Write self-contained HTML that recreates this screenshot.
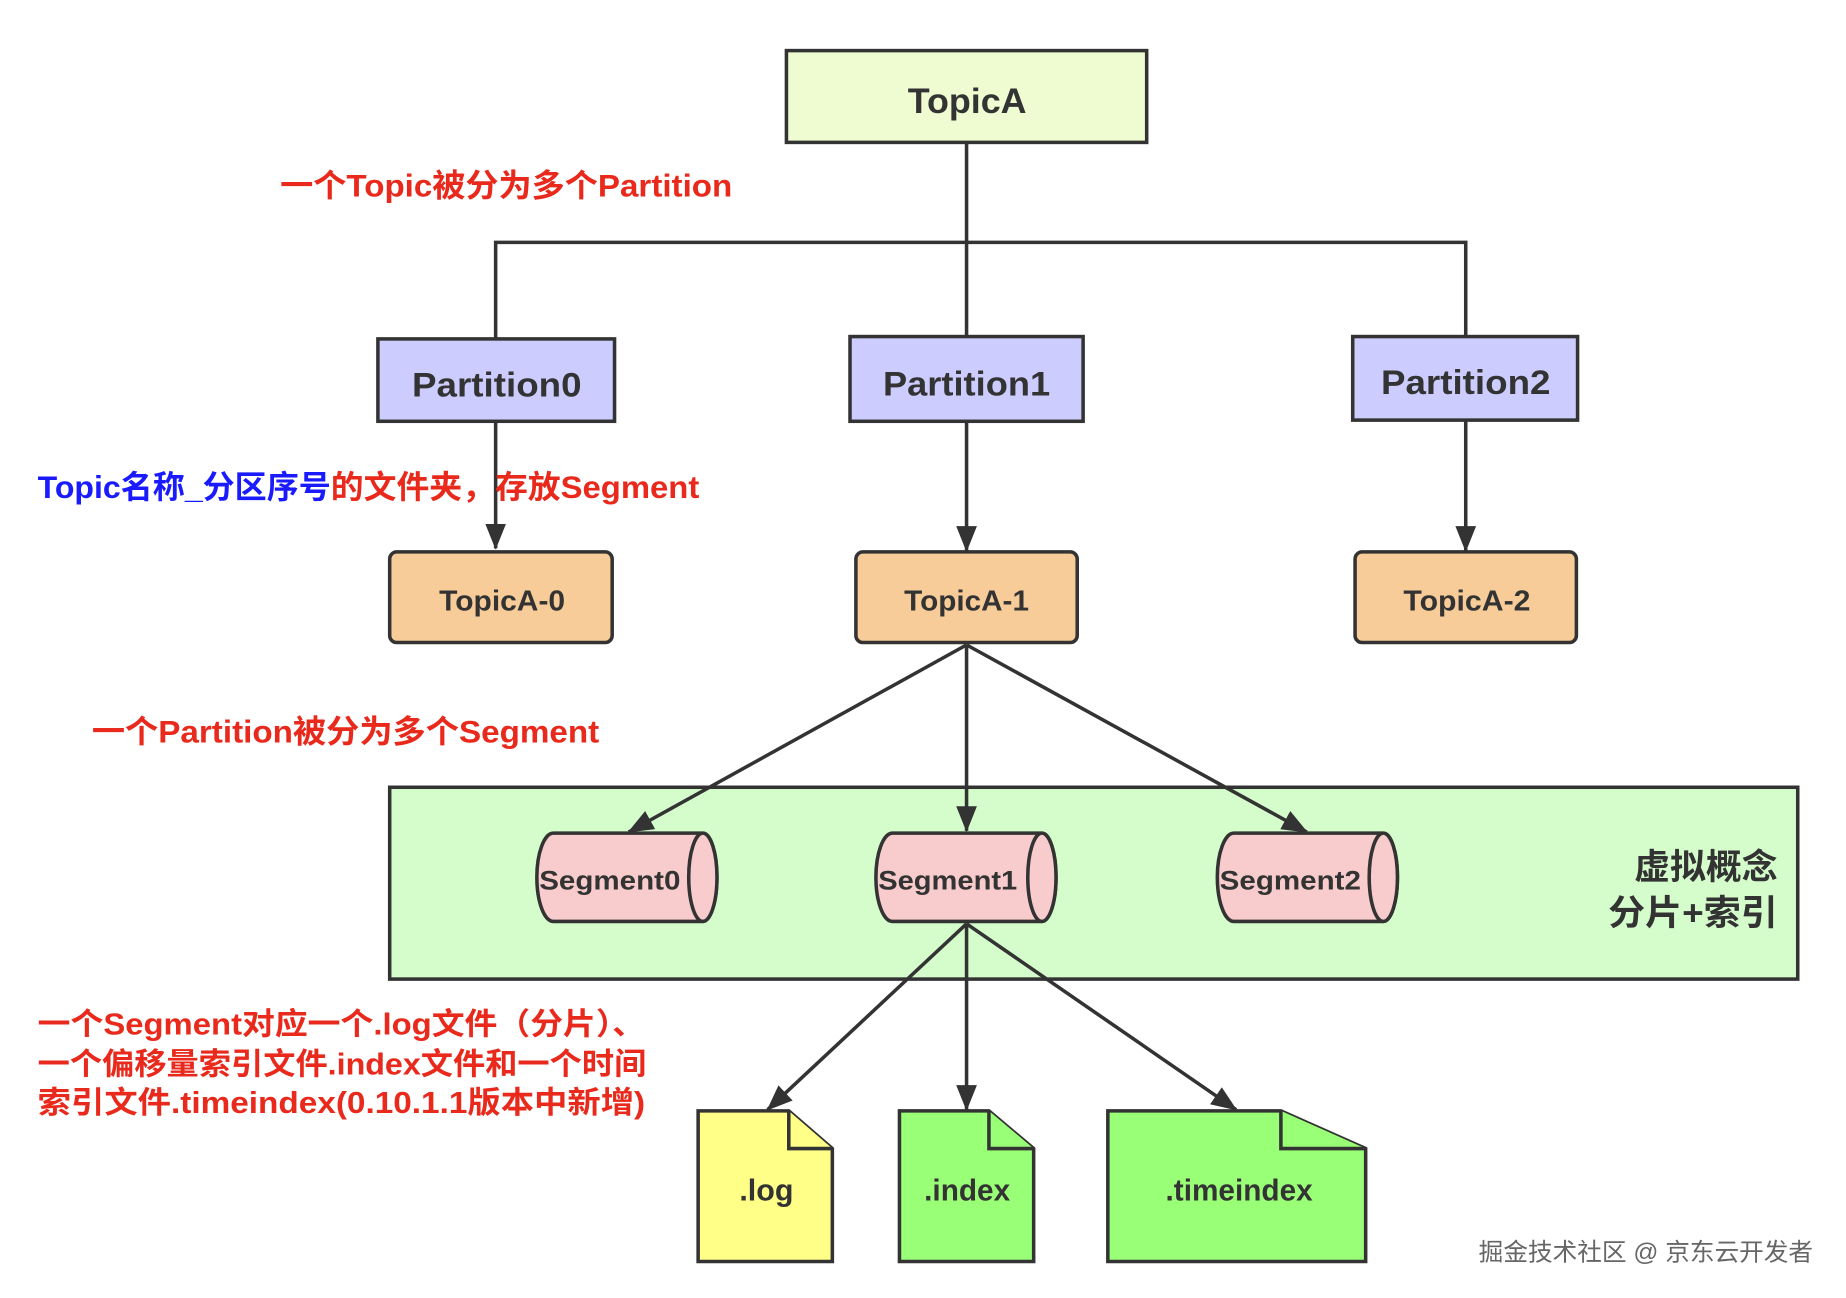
<!DOCTYPE html>
<html><head><meta charset="utf-8"><style>
html,body{margin:0;padding:0;background:#fff;}
svg{display:block}
text{font-family:"Liberation Sans","Noto Sans CJK SC",sans-serif;font-weight:bold;}
</style></head><body>
<svg width="1846" height="1298" viewBox="0 0 1568 1103" preserveAspectRatio="none" xmlns="http://www.w3.org/2000/svg">
<defs>
<marker id="ar" viewBox="0 0 20 20" refX="19" refY="10" markerWidth="22" markerHeight="22" markerUnits="userSpaceOnUse" orient="auto"><path d="M0,2 L20,10 L0,18 Z" fill="#333"/></marker>
</defs>
<g stroke="#333" stroke-width="3" fill="none">
<line x1="821" y1="122" x2="821" y2="286"/>
<polyline points="421,288 421,206 1245,206 1245,286"/>
<line x1="421" y1="358" x2="421" y2="466" marker-end="url(#ar)"/>
<line x1="821" y1="358" x2="821" y2="468" marker-end="url(#ar)"/>
<line x1="1245" y1="357" x2="1245" y2="468" marker-end="url(#ar)"/>
</g>
<rect x="668" y="43" width="306" height="78" fill="#effbd0" stroke="#333" stroke-width="3"/>
<text x="771" y="96" font-size="30" textLength="101" lengthAdjust="spacingAndGlyphs" fill="#333">TopicA</text>
<rect x="321" y="288" width="201" height="70" fill="#ccccff" stroke="#333" stroke-width="3"/>
<text x="350" y="337" font-size="29" textLength="144" lengthAdjust="spacingAndGlyphs" fill="#333">Partition0</text>
<rect x="722" y="286" width="198" height="72" fill="#ccccff" stroke="#333" stroke-width="3"/>
<text x="750" y="336" font-size="29" textLength="142" lengthAdjust="spacingAndGlyphs" fill="#333">Partition1</text>
<rect x="1149" y="286" width="191" height="71" fill="#ccccff" stroke="#333" stroke-width="3"/>
<text x="1173" y="335" font-size="29" textLength="144" lengthAdjust="spacingAndGlyphs" fill="#333">Partition2</text>
<rect x="331" y="469" width="189" height="77" rx="6" fill="#f8cc98" stroke="#333" stroke-width="3"/>
<text x="373" y="519" font-size="24" textLength="107" lengthAdjust="spacingAndGlyphs" fill="#333">TopicA-0</text>
<rect x="727" y="469" width="188" height="77" rx="6" fill="#f8cc98" stroke="#333" stroke-width="3"/>
<text x="768" y="519" font-size="24" textLength="106" lengthAdjust="spacingAndGlyphs" fill="#333">TopicA-1</text>
<rect x="1151" y="469" width="188" height="77" rx="6" fill="#f8cc98" stroke="#333" stroke-width="3"/>
<text x="1192" y="519" font-size="24" textLength="108" lengthAdjust="spacingAndGlyphs" fill="#333">TopicA-2</text>
<rect x="331" y="669" width="1196" height="163" fill="#d5fdcc" stroke="#333" stroke-width="3"/>
<text x="1388" y="747" font-size="30" textLength="122" lengthAdjust="spacingAndGlyphs" fill="#333">虚拟概念</text>
<text x="1366" y="786" font-size="30" textLength="144" lengthAdjust="spacingAndGlyphs" fill="#333">分片+索引</text>
<g stroke="#333" stroke-width="3" fill="none">
<line x1="821" y1="548" x2="534" y2="707" marker-end="url(#ar)"/>
<line x1="821" y1="548" x2="821" y2="706" marker-end="url(#ar)"/>
<line x1="821" y1="548" x2="1110" y2="707" marker-end="url(#ar)"/>
<line x1="821" y1="785" x2="652" y2="943" marker-end="url(#ar)"/>
<line x1="821" y1="785" x2="821" y2="943" marker-end="url(#ar)"/>
<line x1="821" y1="785" x2="1050" y2="943" marker-end="url(#ar)"/>
</g>
<g stroke="#333" stroke-width="3" fill="#f8cccc">
<path d="M470,708 H597 A12,37.5 0 0 1 597,783 H470 A14,37.5 0 0 1 470,708 Z"/>
<ellipse cx="597" cy="745.5" rx="12" ry="37.5"/>
<path d="M758,708 H885 A12,37.5 0 0 1 885,783 H758 A14,37.5 0 0 1 758,708 Z"/>
<ellipse cx="885" cy="745.5" rx="12" ry="37.5"/>
<path d="M1048,708 H1175 A12,37.5 0 0 1 1175,783 H1048 A14,37.5 0 0 1 1048,708 Z"/>
<ellipse cx="1175" cy="745.5" rx="12" ry="37.5"/>
</g>
<text x="458" y="756" font-size="23" textLength="120" lengthAdjust="spacingAndGlyphs" fill="#333">Segment0</text>
<text x="746" y="756" font-size="23" textLength="118" lengthAdjust="spacingAndGlyphs" fill="#333">Segment1</text>
<text x="1036" y="756" font-size="23" textLength="120" lengthAdjust="spacingAndGlyphs" fill="#333">Segment2</text>
<g stroke="#333" stroke-width="3">
<path d="M593,944 H670 L707,976 V1072 H593 Z" fill="#ffff88"/>
<path d="M670,944 V976 H707" fill="#ffff88"/>
<path d="M764,944 H840 L878,976 V1072 H764 Z" fill="#99ff77"/>
<path d="M840,944 V976 H878" fill="#99ff77"/>
<path d="M941,944 H1088 L1160,976 V1072 H941 Z" fill="#99ff77"/>
<path d="M1088,944 V976 H1160" fill="#99ff77"/>
</g>
<text x="628" y="1020" font-size="26" textLength="46" lengthAdjust="spacingAndGlyphs" fill="#333">.log</text>
<text x="785" y="1020" font-size="26" textLength="73" lengthAdjust="spacingAndGlyphs" fill="#333">.index</text>
<text x="990" y="1020" font-size="26" textLength="125" lengthAdjust="spacingAndGlyphs" fill="#333">.timeindex</text>
<text x="238" y="167" font-size="27" textLength="384" lengthAdjust="spacingAndGlyphs" fill="#e8291c">一个Topic被分为多个Partition</text>
<text x="32" y="423" font-size="27" textLength="249" lengthAdjust="spacingAndGlyphs" fill="#1a1aff">Topic名称_分区序号</text>
<text x="281" y="423" font-size="27" textLength="313" lengthAdjust="spacingAndGlyphs" fill="#e8291c">的文件夹，存放Segment</text>
<text x="78" y="631" font-size="27" textLength="431" lengthAdjust="spacingAndGlyphs" fill="#e8291c">一个Partition被分为多个Segment</text>
<text x="32" y="879" font-size="26" textLength="516" lengthAdjust="spacingAndGlyphs" fill="#e8291c">一个Segment对应一个.log文件（分片）、</text>
<text x="32" y="913" font-size="26" textLength="517" lengthAdjust="spacingAndGlyphs" fill="#e8291c">一个偏移量索引文件.index文件和一个时间</text>
<text x="32" y="946" font-size="26" textLength="516" lengthAdjust="spacingAndGlyphs" fill="#e8291c">索引文件.timeindex(0.10.1.1版本中新增)</text>
<text x="1256" y="1071" font-size="21" textLength="284" lengthAdjust="spacingAndGlyphs" fill="#666" style="font-weight:normal">掘金技术社区 @ 京东云开发者</text>
</svg>
</body></html>
